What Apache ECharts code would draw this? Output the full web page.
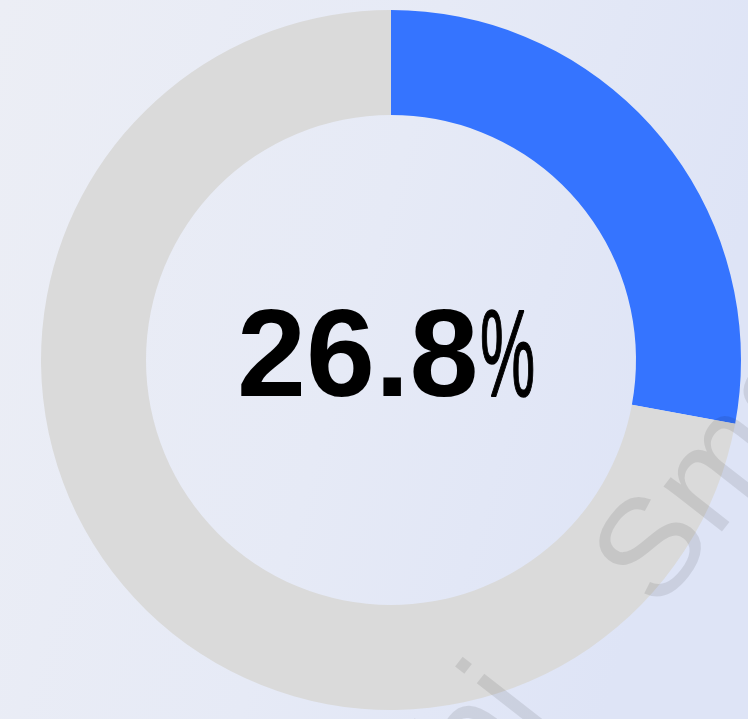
<!DOCTYPE html>
<html>
<head>
<meta charset="utf-8">
<script src="https://cdn.jsdelivr.net/npm/echarts@6/dist/echarts.min.js"></script>
<style>
  html, body { margin: 0; padding: 0; }
  #chart { width: 748px; height: 719px; }
</style>
</head>
<body>
<div id="chart"></div>
<script>
// donut data
var names = ['完成', '未完成'];
var values = [26.8, 69.2];
var colors = ['#3574FF', '#DADADA'];
var centerText = '26.8';

var watermarkText = 'Smartbi';
var wmRot = 52 * Math.PI / 180;
var wmFont = 'normal 140px "Liberation Sans", Arial, sans-serif';

function GenerateChart() {
	var chart = echarts.init(document.getElementById('chart'), null, {renderer: 'canvas'});

	chart.setOption({
		animation: false,
		backgroundColor: {
			type: 'linear', x: 0, y: 0, x2: 1, y2: 0.3,
			colorStops: [
				{offset: 0, color: '#ECEEF5'},
				{offset: 0.55, color: '#E6EAF6'},
				{offset: 1, color: '#DEE4F6'}
			]
		},
		series: [
			{
				type: 'pie',
				center: [391, 360],
				radius: [245, 350],
				startAngle: 90,
				clockwise: true,
				silent: true,
				label: {show: false},
				labelLine: {show: false},
				data: values.map(function (v, i) {
					return {value: v, name: names[i], itemStyle: {color: colors[i]}};
				})
			}
		],
		graphic: [
			{
				type: 'text',
				x: 237, y: 362,
				style: {
					text: centerText,
					font: 'bold 124px "Liberation Sans", Arial, sans-serif',
					fill: '#000',
					align: 'left',
					verticalAlign: 'middle'
				}
			},
			{
				type: 'text',
				x: 480, y: 362,
				scaleX: 0.5,
				style: {
					text: '%',
					font: 'normal 124px "Liberation Sans", Arial, sans-serif',
					fill: '#000',
					stroke: '#000',
					lineWidth: 1.5,
					align: 'left',
					verticalAlign: 'middle'
				}
			},
			// watermark
			{
				type: 'text',
				x: 628, y: 589,
				rotation: wmRot,
				z: 100,
				style: {
					text: watermarkText,
					font: wmFont,
					fill: 'rgba(0,0,0,0.09)',
					align: 'left',
					verticalAlign: 'middle'
				}
			},
			{
				type: 'text',
				x: 518, y: 688,
				rotation: wmRot,
				z: 100,
				style: {
					text: watermarkText,
					font: wmFont,
					fill: 'rgba(0,0,0,0.09)',
					align: 'right',
					verticalAlign: 'middle'
				}
			}
		]
	});
}

GenerateChart();
</script>
</body>
</html>
